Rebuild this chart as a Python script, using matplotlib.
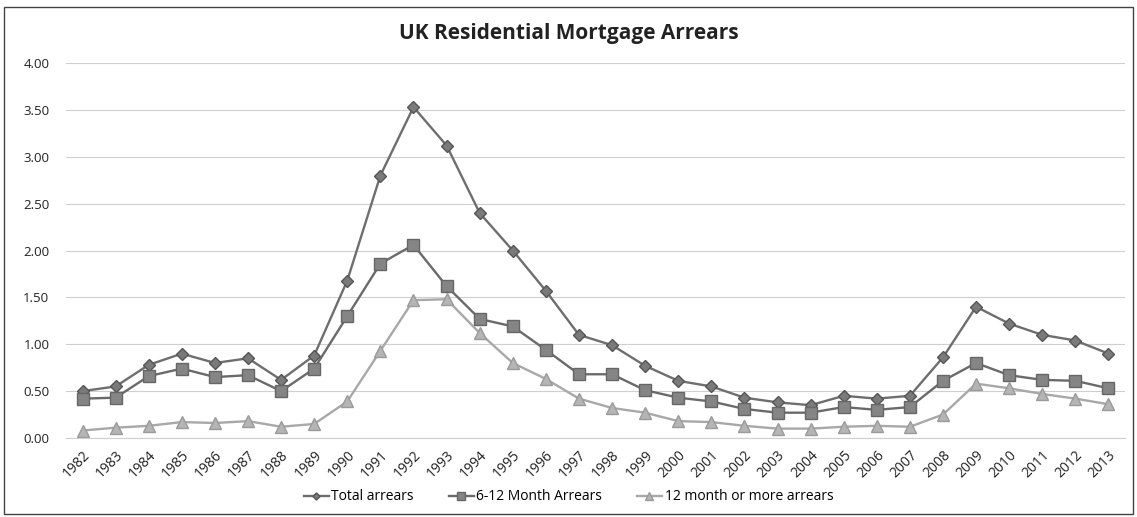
import matplotlib

matplotlib.use("Agg")
import matplotlib.pyplot as plt
from matplotlib.patches import Rectangle

years = [str(y) for y in range(1982, 2014)]

total_arrears = [0.50, 0.55, 0.78, 0.90, 0.80, 0.85, 0.62, 0.88, 1.68, 2.80,
                 3.53, 3.12, 2.40, 2.00, 1.57, 1.10, 0.99, 0.77, 0.61, 0.55,
                 0.43, 0.38, 0.35, 0.45, 0.42, 0.45, 0.86, 1.40, 1.22, 1.10,
                 1.04, 0.90]
arrears_6_12 = [0.42, 0.43, 0.66, 0.74, 0.65, 0.67, 0.50, 0.74, 1.30, 1.86,
                2.06, 1.62, 1.27, 1.19, 0.94, 0.68, 0.68, 0.51, 0.43, 0.39,
                0.31, 0.27, 0.27, 0.33, 0.30, 0.33, 0.61, 0.80, 0.67, 0.62,
                0.61, 0.53]
arrears_12_plus = [0.08, 0.11, 0.13, 0.17, 0.16, 0.18, 0.12, 0.15, 0.39, 0.93,
                   1.47, 1.48, 1.12, 0.80, 0.63, 0.42, 0.32, 0.27, 0.18, 0.17,
                   0.13, 0.10, 0.10, 0.12, 0.13, 0.12, 0.25, 0.58, 0.53, 0.47,
                   0.42, 0.36]

y_ticks = [0.0, 0.5, 1.0, 1.5, 2.0, 2.5, 3.0, 3.5, 4.0]

plt.rcParams["font.family"] = ["Open Sans", "DejaVu Sans"]

fig = plt.figure(figsize=(11.37, 5.17), dpi=100)
ax = fig.add_axes([66 / 1137, 1 - 438 / 517, (1125 - 66) / 1137, (438 - 63) / 517])

x = range(len(years))
ax.plot(x, total_arrears, color="#6e6e6e", lw=1.7, marker="D", ms=6,
        mfc="#7a7a7a", mec="#555555", label="Total arrears")
ax.plot(x, arrears_6_12, color="#6a6a6a", lw=1.7, marker="s", ms=8.5,
        mfc="#858585", mec="#666666", label="6-12 Month Arrears")
ax.plot(x, arrears_12_plus, color="#a8a8a8", lw=1.7, marker="^", ms=8.5,
        mfc="#b5b5b5", mec="#9a9a9a", label="12 month or more arrears")

ax.set_xlim(-0.5, len(years) - 0.5)
ax.set_ylim(0, 4.0)
ax.set_yticks(y_ticks)
ax.set_yticklabels([f"{v:.2f}" for v in y_ticks], fontsize=9.5, color="#222222")
ax.set_xticks(list(x))
ax.set_xticklabels(years, rotation=45, ha="right", rotation_mode="anchor",
                   fontsize=10, color="#222222")
ax.tick_params(axis="x", length=0, pad=7)
ax.tick_params(axis="y", length=0, pad=12)
ax.grid(axis="y", color="#cfcfcf", lw=0.8)
ax.set_axisbelow(True)
for side in ["top", "right", "left"]:
    ax.spines[side].set_visible(False)
ax.spines["bottom"].set_color("#cfcfcf")

fig.text(0.5, 1 - 33 / 517, "UK Residential Mortgage Arrears", ha="center",
         va="center", fontsize=15, fontweight="bold", color="#222222")

fig.legend(loc="center", bbox_to_anchor=(0.5, 1 - 497 / 517), ncol=3,
           frameon=False, fontsize=10, handlelength=1.8, handletextpad=0.2,
           columnspacing=2.5, markerscale=0.6)

fig.patches.append(Rectangle((4 / 1137, 3 / 517), 1 - 8 / 1137, 1 - 10 / 517,
                             transform=fig.transFigure, fill=False,
                             edgecolor="#444444", lw=1))

fig.savefig("out.png", dpi=100)
